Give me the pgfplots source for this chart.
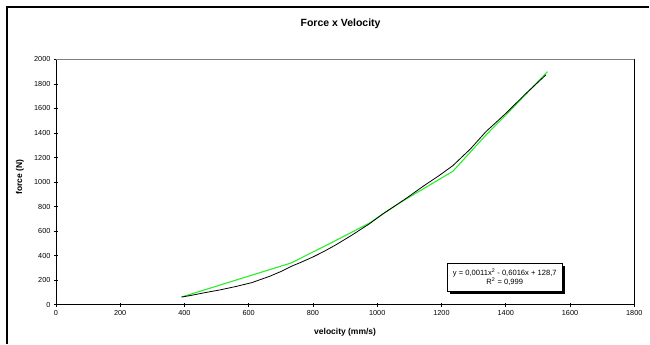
\documentclass[border=0pt]{standalone}
\usepackage{fontspec}
\setmainfont{Liberation Sans}
\usepackage{pgfplots}
\pgfplotsset{compat=1.18}
\usetikzlibrary{shadows}
\definecolor{lime}{RGB}{40,240,40}
\begin{document}
\begin{tikzpicture}
\path[fill=white] (0,0) rectangle (650pt,344pt);
\node[font=\bfseries\fontsize{10.5}{12}\selectfont] at (341pt,320pt) {Force x Velocity};
\begin{axis}[
 at={(56pt,39pt)}, anchor=south west, scale only axis, width=579pt, height=245.5pt,
 xmin=0,xmax=1800,ymin=0,ymax=2000,
 xtick={0,200,...,1800}, ytick={0,200,...,2000},
 tick align=center, xtick pos=bottom, ytick pos=left, major tick length=4pt,
 tick style={black, line width=0.6pt},
 ticklabel style={font=\fontsize{7.3}{8}\selectfont},
 /pgf/number format/assume math mode=true,
 /pgf/number format/1000 sep={},
 xlabel={\textbf{velocity (mm/s)}}, ylabel={\textbf{force (N)}},
 every axis x label/.style={at={(axis description cs:0.5,0)}, yshift=-28pt, anchor=center, font=\bfseries\fontsize{8.5}{9}\selectfont},
 every axis y label/.style={at={(axis description cs:0,0.52)}, xshift=-36pt, rotate=90, anchor=center, font=\bfseries\fontsize{8.5}{9}\selectfont},
 axis line style={black, line width=0.8pt},
 clip=false,
]
\addplot[lime, line width=1.1pt] coordinates {
(391,62) (560,200) (732,340) (850,495) (976,666) (1069,829) (1235,1087) (1339,1385) (1401,1548) (1530,1901)
};
\addplot[black, line width=0.8pt] coordinates {
(391,62) (420,75) (458,95) (510,120) (562,149) (610,180) (665,231) (700,270) (732,312) (765,348) (800,389) (835,435) (872,489) (920,565) (976,660) (1020,745) (1069,829) (1100,885) (1142,964) (1190,1048) (1235,1133) (1290,1270) (1339,1413) (1370,1487) (1401,1562) (1460,1715) (1525,1874)
};
\draw[gray, line width=1.3pt] (rel axis cs:0,1) -- (rel axis cs:1,1);
\node[draw=black, fill=white, line width=0.6pt, align=center, inner sep=1.5pt,
  minimum width=115pt, minimum height=28pt,
  font=\fontsize{7.6}{9}\selectfont,
  drop shadow={shadow xshift=2.5pt, shadow yshift=-2.5pt, fill=black, opacity=1}]
  at (axis cs:1397,224) {y = 0,0011x\textsuperscript{2} - 0,6016x + 128,7\\R\textsuperscript{2} = 0,999};
\end{axis}
\draw[black, line width=1.5pt] (7pt,0pt) -- (7pt,337pt) -- (650pt,337pt);
\end{tikzpicture}
\end{document}
